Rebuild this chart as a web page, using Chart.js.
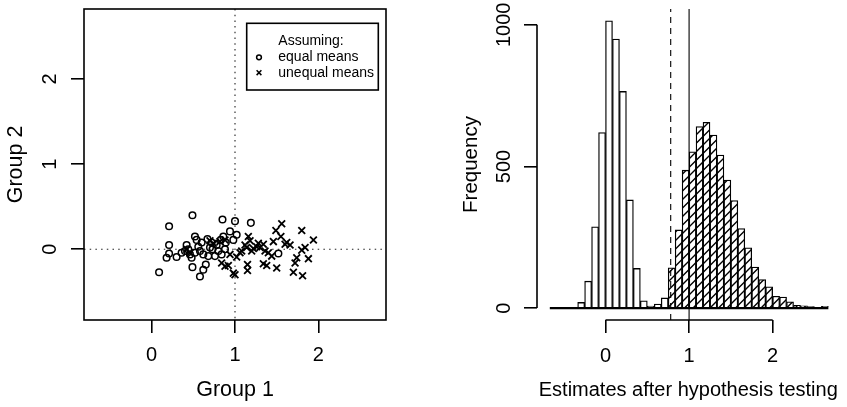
<!DOCTYPE html>
<html>
<head>
<meta charset="utf-8">
<script src="https://cdn.jsdelivr.net/npm/chart.js@4.4.0/dist/chart.umd.min.js"></script>
<style>
  html, body { margin: 0; padding: 0; background: #fff; }
  #wrap { position: relative; width: 847px; height: 407px; }
  canvas { position: absolute; top: 0; }
  #left { left: 0; }
  #right { left: 423px; }
</style>
</head>
<body>
<div id="wrap">
  <canvas id="left" width="423" height="407"></canvas>
  <canvas id="right" width="424" height="407"></canvas>
</div>
<script>
// Left panel: estimates for the two groups
const equalX = [0.09, 0.21, 0.21, 0.18, 0.21, 0.30, 0.36, 0.42, 0.44, 0.48, 0.49, 0.49, 0.52, 0.54, 0.52,
  0.58, 0.60, 0.58, 0.62, 0.65, 0.67, 0.70, 0.73, 0.72, 0.78, 0.83, 0.85, 0.86, 0.89, 0.94, 1.00, 1.02,
  0.98, 1.19, 0.76, 0.80, 0.88, 0.68, 0.46, 1.52, 0.62, 0.84, 0.40, 0.56];
const equalY = [-0.27, 0.27, 0.05, -0.10, -0.05, -0.09, -0.04, 0.05, 0.00, -0.10, -0.21, 0.40, 0.15, 0.11, -0.04,
  -0.02, 0.08, -0.32, -0.24, -0.18, 0.12, 0.02, 0.00, 0.08, 0.05, 0.11, 0.35, 0.15, 0.08, 0.21, 0.33, 0.17,
  0.11, 0.31, -0.08, -0.02, 0.00, -0.08, -0.06, -0.05, -0.06, -0.06, -0.02, 0.03];
const unequalX = [1.56, 1.49, 1.80, 1.55, 1.94, 1.16, 1.18, 1.34, 1.46, 1.60, 1.66, 1.26, 1.30, 1.08, 1.14,
  1.22, 1.84, 1.80, 1.02, 0.94, 1.36, 1.44, 1.74, 1.88, 1.72, 0.84, 0.92, 0.88, 1.34, 1.38, 1.50, 1.15,
  0.98, 1.00, 1.70, 1.81, 1.06, 0.70, 0.74, 0.82, 0.88, 0.42, 0.46, 1.28, 1.12, 1.40, 1.20, 1.62, 1.15];
const unequalY = [0.30, 0.22, 0.22, 0.15, 0.11, 0.15, 0.10, 0.06, 0.09, 0.06, 0.05, 0.03, 0.02, -0.02, 0.02,
  0.01, 0.02, -0.01, -0.09, -0.06, -0.02, -0.08, -0.10, -0.11, -0.16, -0.16, -0.19, -0.20, -0.17, -0.19, -0.22, -0.25,
  -0.28, -0.30, -0.27, -0.31, -0.04, 0.10, 0.07, 0.09, 0.11, 0.00, -0.04, 0.07, 0.05, -0.04, -0.02, 0.08, -0.18];
const scatterTicks = [0, 1, 2];
const refX = 1, refY = 0;

// Right panel: histogram of estimates after testing, bins of width 1/12
const binStart = -2 / 3;
const binWidth = 1 / 12;
const equalCounts = [0, 0, 0, 2, 20, 95, 287, 620, 1014, 950, 765, 382, 140, 26, 7, 14, 36,
  0, 0, 0, 0, 0, 0, 0, 0, 0, 0, 0, 0, 0, 0, 0, 0, 0, 0, 0, 0, 0, 0, 0];
const unequalCounts = [0, 0, 0, 0, 0, 0, 0, 0, 0, 0, 0, 0, 0, 0, 0, 0, 0,
  142, 276, 487, 552, 641, 656, 611, 540, 452, 380, 281, 213, 145, 101, 75, 42, 39, 22, 10, 8, 5, 3, 6];
const histXTicks = [0, 1, 2];
const histYTicks = [0, 500, 1000];
const trueValue = 1;
const meanValue = 0.78;

Chart.defaults.font.family = "'Liberation Sans', Arial, Helvetica, sans-serif";
Chart.defaults.font.size = 20;
Chart.defaults.color = '#000';

function fixSize(prop, size) {
  return s => {
    s[prop] = size;
    s.paddingLeft = s.paddingRight = s.paddingTop = s.paddingBottom = 0;
  };
}
function setTicks(values) {
  return s => { s.ticks = values.map(v => ({ value: v })); };
}
const tickGrid = {
  display: true, drawOnChartArea: false, drawTicks: true, offset: false,
  tickLength: 13, color: '#000', lineWidth: 1.6
};

// ---- left: scatter ----
const scatterDecor = {
  id: 'scatterDecor',
  beforeDatasetsDraw(chart) {
    const { ctx, chartArea: a, scales: { x, y } } = chart;
    const px = x.getPixelForValue(refX), py = y.getPixelForValue(refY);
    ctx.save();
    ctx.strokeStyle = '#222';
    ctx.lineWidth = 1.1;
    ctx.setLineDash([1.5, 4.2]);
    ctx.beginPath();
    ctx.moveTo(px, a.top); ctx.lineTo(px, a.bottom);
    ctx.moveTo(a.left, py); ctx.lineTo(a.right, py);
    ctx.stroke();
    ctx.restore();
  },
  afterDraw(chart) {
    const { ctx, chartArea: a } = chart;
    ctx.save();
    ctx.strokeStyle = '#000';
    ctx.lineWidth = 1.6;
    ctx.strokeRect(a.left, a.top, a.right - a.left, a.bottom - a.top);

    // legend
    const w = 131.6, h = 66.7;
    const bx = a.right - 7.7 - w, by = a.top + 14.3;
    ctx.strokeRect(bx, by, w, h);
    ctx.font = "14px 'Liberation Sans', Arial, sans-serif";
    ctx.fillStyle = '#000';
    ctx.textBaseline = 'middle';
    ctx.textAlign = 'left';
    const tx = bx + 31.6, sx = bx + 12.3;
    ctx.fillText('Assuming:', tx, by + 17.4);
    ctx.fillText('equal means', tx, by + 34);
    ctx.fillText('unequal means', tx, by + 49.4);
    ctx.lineWidth = 1.5;
    ctx.beginPath();
    ctx.arc(sx, by + 34, 2.4, 0, Math.PI * 2);
    ctx.stroke();
    ctx.beginPath();
    const cy = by + 49.4, d = 2.4;
    ctx.moveTo(sx - d, cy - d); ctx.lineTo(sx + d, cy + d);
    ctx.moveTo(sx - d, cy + d); ctx.lineTo(sx + d, cy - d);
    ctx.stroke();
    ctx.restore();
  }
};

new Chart(document.getElementById('left'), {
  type: 'scatter',
  data: {
    datasets: [
      {
        label: 'equal means',
        data: equalX.map((x, i) => ({ x, y: equalY[i] })),
        pointStyle: 'circle', pointRadius: 3.3, borderWidth: 1.5,
        borderColor: '#000', backgroundColor: 'rgba(0,0,0,0)'
      },
      {
        label: 'unequal means',
        data: unequalX.map((x, i) => ({ x, y: unequalY[i] })),
        pointStyle: 'crossRot', pointRadius: 4.8, borderWidth: 1.8,
        borderColor: '#000', backgroundColor: 'rgba(0,0,0,0)'
      }
    ]
  },
  options: {
    responsive: false,
    animation: false,
    events: [],
    layout: { padding: { left: 0, right: 37, top: 9, bottom: 0 } },
    plugins: { legend: { display: false }, tooltip: { enabled: false } },
    scales: {
      x: {
        type: 'linear', min: -0.81, max: 2.81, bounds: 'data',
        afterBuildTicks: setTicks(scatterTicks),
        afterFit: fixSize('height', 87),
        grid: tickGrid,
        border: { display: false },
        ticks: { padding: 10, maxRotation: 0, callback: v => String(v) },
        title: { display: true, text: 'Group 1', font: { size: 21.5 }, padding: { top: 0, bottom: 4 } }
      },
      y: {
        type: 'linear', min: -0.83, max: 2.82, bounds: 'data',
        afterBuildTicks: setTicks(scatterTicks),
        afterFit: fixSize('width', 84),
        grid: tickGrid,
        border: { display: false },
        ticks: { padding: 15.4, minRotation: 90, maxRotation: 90, crossAlign: 'center', callback: v => String(v) },
        title: { display: true, text: 'Group 2', font: { size: 21.5 }, padding: { top: 3, bottom: 0 } }
      }
    }
  },
  plugins: [scatterDecor]
});

// ---- right: histogram ----
function hatchPattern(ctx) {
  const size = 17;
  const c = document.createElement('canvas');
  c.width = c.height = size;
  const g = c.getContext('2d');
  g.fillStyle = '#fff';
  g.fillRect(0, 0, size, size);
  g.strokeStyle = '#000';
  g.lineWidth = 1.4;
  g.beginPath();
  for (let k = 0; k <= 2 * size; k += size / 2) {
    g.moveTo(-2, k + 2);
    g.lineTo(k + 2, -2);
  }
  g.stroke();
  return ctx.createPattern(c, 'repeat');
}

const rightCanvas = document.getElementById('right');
const binCenter = i => binStart + (i + 0.5) * binWidth;

const histDecor = {
  id: 'histDecor',
  afterDatasetsDraw(chart) {
    const { ctx, chartArea: a, scales: { x, y } } = chart;
    ctx.save();
    ctx.strokeStyle = '#000';

    // zero line under all bins
    ctx.lineWidth = 2.2;
    ctx.beginPath();
    ctx.moveTo(x.getPixelForValue(binStart), y.getPixelForValue(0));
    ctx.lineTo(x.getPixelForValue(binStart + equalCounts.length * binWidth), y.getPixelForValue(0));
    ctx.stroke();

    // axis lines spanning the ticks only
    ctx.lineWidth = 1.6;
    ctx.beginPath();
    ctx.moveTo(x.getPixelForValue(histXTicks[0]), a.bottom);
    ctx.lineTo(x.getPixelForValue(histXTicks[histXTicks.length - 1]), a.bottom);
    ctx.moveTo(a.left, y.getPixelForValue(histYTicks[0]));
    ctx.lineTo(a.left, y.getPixelForValue(histYTicks[histYTicks.length - 1]));
    ctx.stroke();

    // true value and mean of the estimates
    ctx.lineWidth = 1.1;
    const tx = x.getPixelForValue(trueValue);
    ctx.beginPath();
    ctx.moveTo(tx, a.top); ctx.lineTo(tx, a.bottom);
    ctx.stroke();
    const mx = x.getPixelForValue(meanValue);
    ctx.setLineDash([6, 5]);
    ctx.beginPath();
    ctx.moveTo(mx, a.bottom); ctx.lineTo(mx, a.top);
    ctx.stroke();
    ctx.restore();
  }
};

new Chart(rightCanvas, {
  type: 'bar',
  data: {
    datasets: [
      {
        label: 'equal means',
        data: equalCounts.map((c, i) => ({ x: binCenter(i), y: c })),
        backgroundColor: '#fff', borderColor: '#000', borderWidth: 1.3,
        barPercentage: 1, categoryPercentage: 1, grouped: false
      },
      {
        label: 'unequal means',
        data: unequalCounts.map((c, i) => ({ x: binCenter(i), y: c })),
        backgroundColor: hatchPattern(rightCanvas.getContext('2d')), borderColor: '#000', borderWidth: 1.3,
        barPercentage: 1, categoryPercentage: 1, grouped: false
      }
    ]
  },
  options: {
    responsive: false,
    animation: false,
    events: [],
    layout: { padding: { left: 0, right: 7.5, top: 9, bottom: 0 } },
    plugins: { legend: { display: false }, tooltip: { enabled: false } },
    scales: {
      x: {
        type: 'linear', min: -0.82, max: 2.8, bounds: 'data', offset: false,
        afterBuildTicks: setTicks(histXTicks),
        afterFit: fixSize('height', 87),
        grid: tickGrid,
        border: { display: false },
        ticks: { padding: 11.5, maxRotation: 0, callback: v => String(v) },
        title: { display: true, text: 'Estimates after hypothesis testing', padding: { top: 0, bottom: 5 } }
      },
      y: {
        type: 'linear', min: -42, max: 1056, bounds: 'data',
        afterBuildTicks: setTicks(histYTicks),
        afterFit: fixSize('width', 114),
        grid: tickGrid,
        border: { display: false },
        ticks: { padding: -3.2, minRotation: 90, maxRotation: 90, crossAlign: 'center', callback: v => String(v) },
        title: { display: true, text: 'Frequency', font: { size: 20.5 }, padding: { top: 36, bottom: 0 } }
      }
    }
  },
  plugins: [histDecor]
});
</script>
</body>
</html>
